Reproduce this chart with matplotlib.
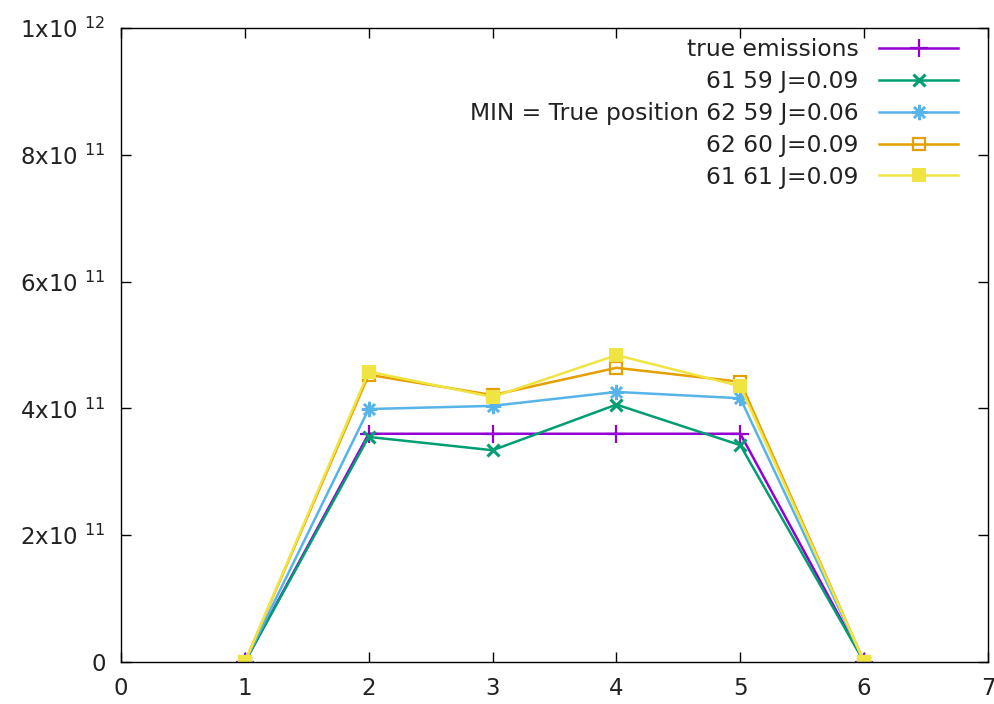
import numpy as np
import matplotlib.pyplot as plt

plt.rcParams['font.family'] = ['DejaVu Sans']
plt.rcParams['mathtext.default'] = 'regular'

# data (values in units of 1e11)
x = [1, 2, 3, 4, 5, 6]
true_emis = [0, 3.6, 3.6, 3.6, 3.6, 0]
s61_59 = [0, 3.55, 3.34, 4.06, 3.42, 0]
s62_59 = [0, 3.99, 4.04, 4.26, 4.16, 0]
s62_60 = [0, 4.53, 4.21, 4.64, 4.42, 0]
s61_61 = [0, 4.58, 4.18, 4.84, 4.35, 0]

labels = ['true emissions', '61 59 J=0.09', 'MIN = True position 62 59 J=0.06',
          '62 60 J=0.09', '61 61 J=0.09']
colors = ['#9400d3', '#009e73', '#56b4e9', '#e69f00', '#f0e442']

yticks = [0, 2e11, 4e11, 6e11, 8e11, 1e12]
ytick_labels = ['0', '2x10 $^{11}$', '4x10 $^{11}$', '6x10 $^{11}$', '8x10 $^{11}$', '1x10 $^{12}$']
xticks = [0, 1, 2, 3, 4, 5, 6, 7]

fig = plt.figure(figsize=(9.95, 7.04), dpi=100)
ax = fig.add_axes([121 / 995, 42 / 704, 867 / 995, 634 / 704])

series = [true_emis, s61_59, s62_59, s62_60, s61_61]
styles = [dict(marker='+', ms=13, mew=1.6),
          dict(marker='x', ms=8, mew=2.2),
          dict(marker=(8, 2, 0), ms=11, mew=1.8),
          dict(marker='s', ms=8, mfc='none', mew=1.6),
          dict(marker='s', ms=9.5, mew=0)]

for vals, lab, c, st in zip(series, labels, colors, styles):
    ax.plot(x, np.array(vals) * 1e11, color=c, lw=1.8, label=lab, **st)

ax.set_xlim(0, 7)
ax.set_ylim(0, 1e12)
ax.set_xticks(xticks)
ax.set_yticks(yticks)
ax.set_yticklabels(ytick_labels)
ax.tick_params(direction='in', length=7, width=1, top=True, right=True,
               labelsize=16.5, pad=11, labelcolor='#222222')
for s in ax.spines.values():
    s.set_linewidth(1)

leg = ax.legend(loc='upper right', bbox_to_anchor=(0.965, 0.984), frameon=False,
                markerfirst=False, fontsize=16.8, handlelength=3.35,
                borderpad=0, borderaxespad=0, labelspacing=0.38, handletextpad=0.9)
for t in leg.get_texts():
    t.set_color('#222222')

fig.savefig('out.png', dpi=100)
